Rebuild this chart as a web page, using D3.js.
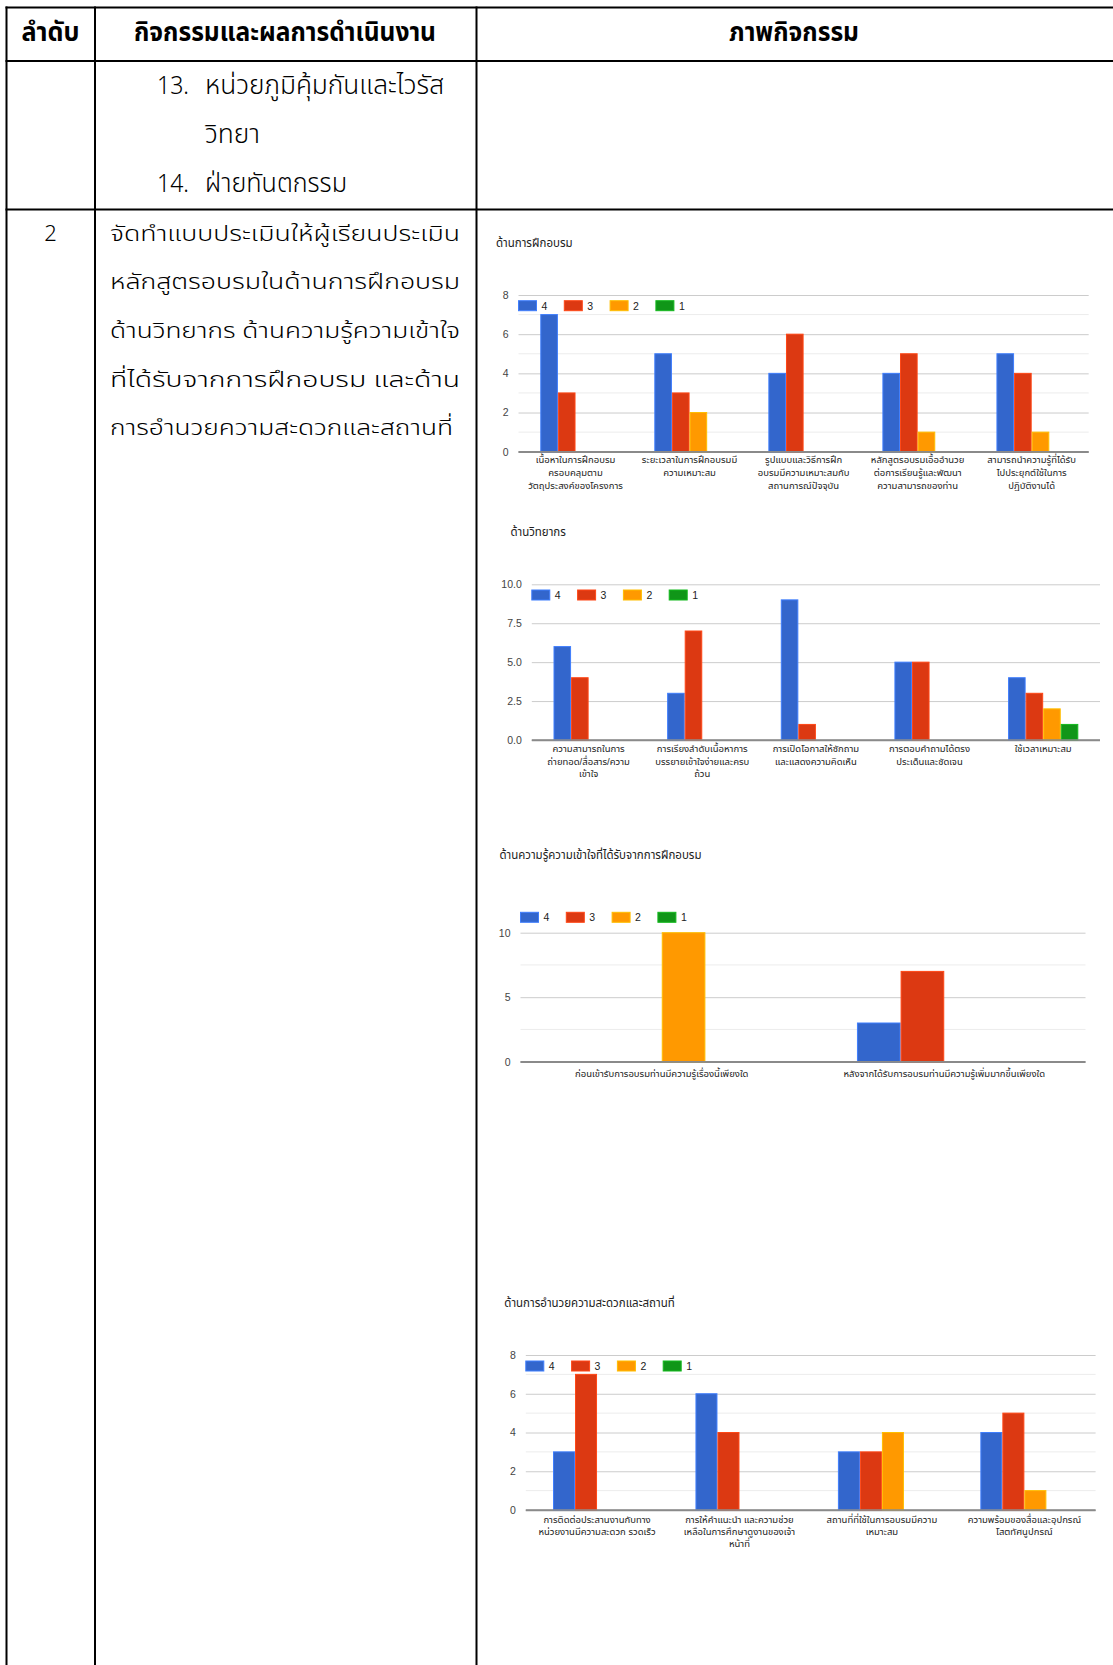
<!DOCTYPE html>
<html>
<head>
<meta charset="utf-8">
<script src="https://cdn.jsdelivr.net/npm/d3@7"></script>
<style>
  html, body { margin: 0; padding: 0; background: #fff; }
  svg { display: block; }
</style>
</head>
<body>
<svg id="page" width="1113" height="1665"></svg>
<script>
// ---------- series shared by all four charts ----------
const ratingKeys = ["4", "3", "2", "1"];
const ratingColors = ["#3366cc", "#dc3912", "#ff9900", "#109618"];

// ---------- chart 1: ด้านการฝึกอบรม ----------
const trainingTitle = "ด้านการฝึกอบรม";
const trainingCategories = [
  ["เนื้อหาในการฝึกอบรม", "ครอบคลุมตาม", "วัตถุประสงค์ของโครงการ"],
  ["ระยะเวลาในการฝึกอบรมมี", "ความเหมาะสม"],
  ["รูปแบบและวิธีการฝึก", "อบรมมีความเหมาะสมกับ", "สถานการณ์ปัจจุบัน"],
  ["หลักสูตรอบรมเอื้ออำนวย", "ต่อการเรียนรู้และพัฒนา", "ความสามารถของท่าน"],
  ["สามารถนำความรู้ที่ได้รับ", "ไปประยุกต์ใช้ในการ", "ปฏิบัติงานได้"]
];
const trainingScore4 = [7, 5, 4, 4, 5];
const trainingScore3 = [3, 3, 6, 5, 4];
const trainingScore2 = [0, 2, 0, 1, 1];
const trainingScore1 = [0, 0, 0, 0, 0];
const trainingTicks = [0, 2, 4, 6, 8];

// ---------- chart 2: ด้านวิทยากร ----------
const speakerTitle = "ด้านวิทยากร";
const speakerCategories = [
  ["ความสามารถในการ", "ถ่ายทอด/สื่อสาร/ความ", "เข้าใจ"],
  ["การเรียงลำดับเนื้อหาการ", "บรรยายเข้าใจง่ายและครบ", "ถ้วน"],
  ["การเปิดโอกาสให้ซักถาม", "และแสดงความคิดเห็น"],
  ["การตอบคำถามได้ตรง", "ประเด็นและชัดเจน"],
  ["ใช้เวลาเหมาะสม"]
];
const speakerScore4 = [6, 3, 9, 5, 4];
const speakerScore3 = [4, 7, 1, 5, 3];
const speakerScore2 = [0, 0, 0, 0, 2];
const speakerScore1 = [0, 0, 0, 0, 1];
const speakerTicks = [0, 2.5, 5, 7.5, 10];

// ---------- chart 3: ด้านความรู้ความเข้าใจ ----------
const knowledgeTitle = "ด้านความรู้ความเข้าใจที่ได้รับจากการฝึกอบรม";
const knowledgeCategories = [
  ["ก่อนเข้ารับการอบรมท่านมีความรู้เรื่องนี้เพียงใด"],
  ["หลังจากได้รับการอบรมท่านมีความรู้เพิ่มมากขึ้นเพียงใด"]
];
const knowledgeScore4 = [0, 3];
const knowledgeScore3 = [0, 7];
const knowledgeScore2 = [10, 0];
const knowledgeScore1 = [0, 0];
const knowledgeTicks = [0, 5, 10];

// ---------- chart 4: ด้านการอำนวยความสะดวกและสถานที่ ----------
const facilityTitle = "ด้านการอำนวยความสะดวกและสถานที่";
const facilityCategories = [
  ["การติดต่อประสานงานกับทาง", "หน่วยงานมีความสะดวก รวดเร็ว"],
  ["การให้คำแนะนำ และความช่วย", "เหลือในการศึกษาดูงานของเจ้า", "หน้าที่"],
  ["สถานที่ที่ใช้ในการอบรมมีความ", "เหมาะสม"],
  ["ความพร้อมของสื่อและอุปกรณ์", "โสตทัศนูปกรณ์"]
];
const facilityScore4 = [3, 6, 3, 4];
const facilityScore3 = [7, 4, 3, 5];
const facilityScore2 = [0, 0, 4, 1];
const facilityScore1 = [0, 0, 0, 0];
const facilityTicks = [0, 2, 4, 6, 8];

// ---------- table text ----------
const headerLabels = ["ลำดับ", "กิจกรรมและผลการดำเนินงาน", "ภาพกิจกรรม"];
const continuedItems = [
  { no: "13.", lines: ["หน่วยภูมิคุ้มกันและไวรัส", "วิทยา"] },
  { no: "14.", lines: ["ฝ่ายทันตกรรม"] }
];
const rowNumber = "2";
const rowDescription = [
  "จัดทำแบบประเมินให้ผู้เรียนประเมิน",
  "หลักสูตรอบรมในด้านการฝึกอบรม",
  "ด้านวิทยากร ด้านความรู้ความเข้าใจ",
  "ที่ได้รับจากการฝึกอบรม และด้าน",
  "การอำนวยความสะดวกและสถานที่"
];

const svg = d3.select("#page");
const thaiBody = "'Noto Sans Thai', 'Noto Sans', 'DejaVu Sans', sans-serif";
const thaiNarrow = "'Noto Sans Thai', 'Liberation Sans Narrow', 'Liberation Sans', sans-serif";
const chartFont = "'Liberation Sans', Arial, 'Noto Sans Thai', sans-serif";

// ---------- table frame ----------
const frame = svg.append("g").attr("stroke", "#000").attr("stroke-width", 2);
const colX = [6.5, 95, 476.5];
const tableRight = 1113;
colX.forEach(x => frame.append("line").attr("x1", x).attr("x2", x).attr("y1", 6.5).attr("y2", 1665));
[7.5, 61, 209.5].forEach(y => frame.append("line").attr("x1", 5.5).attr("x2", tableRight).attr("y1", y).attr("y2", y));

function fitText(g, str, x, y, opts) {
  const t = g.append("text")
    .attr("x", x).attr("y", y)
    .attr("dominant-baseline", "central")
    .attr("font-family", opts.family)
    .attr("font-size", opts.size)
    .attr("font-weight", opts.weight || "normal")
    .attr("fill", opts.fill || "#000")
    .attr("text-anchor", opts.anchor || "start")
    .text(str);
  if (opts.width) t.attr("textLength", opts.width).attr("lengthAdjust", "spacingAndGlyphs");
  return t;
}

const tableText = svg.append("g");
// header row
fitText(tableText, headerLabels[0], 50.5, 33, { family: thaiNarrow, size: 26, weight: "bold", anchor: "middle", width: 58 });
fitText(tableText, headerLabels[1], 285, 33, { family: thaiNarrow, size: 26, weight: "bold", anchor: "middle", width: 302 });
fitText(tableText, headerLabels[2], 794, 33, { family: thaiNarrow, size: 26, weight: "bold", anchor: "middle", width: 130 });

// continued list items
const itemWidths = [[239, 55], [142]];
let itemY = 86;
continuedItems.forEach((item, i) => {
  fitText(tableText, item.no, 157, itemY, { family: thaiNarrow, size: 26, weight: 300, width: 32 });
  item.lines.forEach((ln, j) => {
    fitText(tableText, ln, 205, itemY, { family: thaiNarrow, size: 26, weight: 300, width: itemWidths[i][j] });
    itemY += 49;
  });
});

// second row
fitText(tableText, rowNumber, 50.5, 234, { family: thaiBody, size: 22, weight: 300, anchor: "middle" });
rowDescription.forEach((ln, i) => {
  fitText(tableText, ln, 110, 234 + i * 48.7, { family: thaiBody, size: 22, weight: 300, width: i < 4 ? 350 : 343 });
});

// ---------- grouped column charts ----------
const charts = [
  { title: trainingTitle, cats: trainingCategories, series: [trainingScore4, trainingScore3, trainingScore2, trainingScore1],
    ticks: trainingTicks, minor: true, fmt: d3.format("d"),
    left: 518.5, right: 1088.7, top: 295, bottom: 451.7, titleX: 496, titleY: 243, legendY: 305.7, labelY: 460, lineH: 12.6 },
  { title: speakerTitle, cats: speakerCategories, series: [speakerScore4, speakerScore3, speakerScore2, speakerScore1],
    ticks: speakerTicks, minor: false, fmt: d3.format(".1f"),
    left: 531.8, right: 1100, top: 584.3, bottom: 740, titleX: 510.4, titleY: 532.3, legendY: 595, labelY: 748.3, lineH: 12.9 },
  { title: knowledgeTitle, cats: knowledgeCategories, series: [knowledgeScore4, knowledgeScore3, knowledgeScore2, knowledgeScore1],
    ticks: knowledgeTicks, minor: true, fmt: d3.format("d"),
    left: 520.5, right: 1085.5, top: 932.7, bottom: 1061.7, titleX: 499.4, titleY: 855, legendY: 917.3, labelY: 1073.3, lineH: 12.6 },
  { title: facilityTitle, cats: facilityCategories, series: [facilityScore4, facilityScore3, facilityScore2, facilityScore1],
    ticks: facilityTicks, minor: true, fmt: d3.format("d"),
    left: 525.8, right: 1095.6, top: 1355, bottom: 1510, titleX: 504.3, titleY: 1303.3, legendY: 1366, labelY: 1519.3, lineH: 12.4 }
];

charts.forEach(c => {
  const g = svg.append("g");
  const maxV = c.ticks[c.ticks.length - 1];
  const y = d3.scaleLinear().domain([0, maxV]).range([c.bottom, c.top]);
  const x = d3.scaleBand().domain(d3.range(c.cats.length))
    .range([c.left, c.right]).paddingInner(0.382).paddingOuter(0.191);
  const xs = d3.scaleBand().domain(d3.range(ratingKeys.length)).range([0, x.bandwidth()]);

  // title
  g.append("text").attr("x", c.titleX).attr("y", c.titleY)
    .attr("dominant-baseline", "central")
    .attr("font-family", chartFont).attr("font-size", 11.5).attr("fill", "#222")
    .text(c.title);

  // minor gridlines halfway between ticks
  if (c.minor) {
    const step = c.ticks[1] - c.ticks[0];
    g.append("g").selectAll("line").data(c.ticks.slice(1).map(t => t - step / 2)).join("line")
      .attr("x1", c.left).attr("x2", c.right)
      .attr("y1", d => y(d)).attr("y2", d => y(d))
      .attr("stroke", "#ececec").attr("stroke-width", 1);
  }

  // y axis with major gridlines
  const axis = g.append("g").attr("transform", `translate(${c.left},0)`)
    .call(d3.axisLeft(y).tickValues(c.ticks).tickFormat(c.fmt).tickSize(-(c.right - c.left)).tickPadding(10));
  axis.select(".domain").remove();
  axis.selectAll(".tick line").attr("stroke", d => d === 0 ? "#8a8a8a" : "#cccccc").attr("stroke-width", d => d === 0 ? 1.5 : 1);
  axis.selectAll(".tick text").attr("font-family", chartFont).attr("font-size", 10.5).attr("fill", "#444");

  // bars
  const groups = g.append("g").selectAll("g").data(c.cats.map((_, i) => i)).join("g")
    .attr("transform", i => `translate(${x(i)},0)`);
  groups.selectAll("rect")
    .data(i => c.series.map((s, k) => ({ k, v: s[i] })).filter(d => d.v > 0))
    .join("rect")
    .attr("x", d => xs(d.k) + 0.5)
    .attr("width", xs.bandwidth() - 1)
    .attr("y", d => y(d.v))
    .attr("height", d => y(0) - y(d.v))
    .attr("fill", d => ratingColors[d.k])
    .attr("stroke", d => d3.color(ratingColors[d.k]).brighter(0.6))
    .attr("stroke-width", 1);

  // redraw baseline over the bars
  g.append("line").attr("x1", c.left).attr("x2", c.right).attr("y1", y(0)).attr("y2", y(0))
    .attr("stroke", "#8a8a8a").attr("stroke-width", 1.5);

  // category labels
  const labels = g.append("g").selectAll("text").data(c.cats).join("text")
    .attr("x", (_, i) => x(i) + x.bandwidth() / 2)
    .attr("y", c.labelY)
    .attr("text-anchor", "middle")
    .attr("font-family", chartFont).attr("font-size", 9.5).attr("fill", "#222");
  labels.selectAll("tspan").data(d => d).join("tspan")
    .attr("x", function () { return this.parentNode.getAttribute("x"); })
    .attr("dy", (_, j) => j === 0 ? "0.35em" : c.lineH)
    .text(d => d);

  // legend
  const legend = g.append("g").selectAll("g").data(ratingKeys).join("g")
    .attr("transform", (_, k) => `translate(${c.left + k * 45.8},${c.legendY})`);
  legend.append("rect").attr("x", 0).attr("y", -5).attr("width", 18).attr("height", 10)
    .attr("fill", (_, k) => ratingColors[k])
    .attr("stroke", (_, k) => d3.color(ratingColors[k]).brighter(0.6)).attr("stroke-width", 1);
  legend.append("text").attr("x", 23).attr("y", 0).attr("dominant-baseline", "central")
    .attr("font-family", chartFont).attr("font-size", 10.5).attr("fill", "#222")
    .text(d => d);
});
</script>
</body>
</html>
